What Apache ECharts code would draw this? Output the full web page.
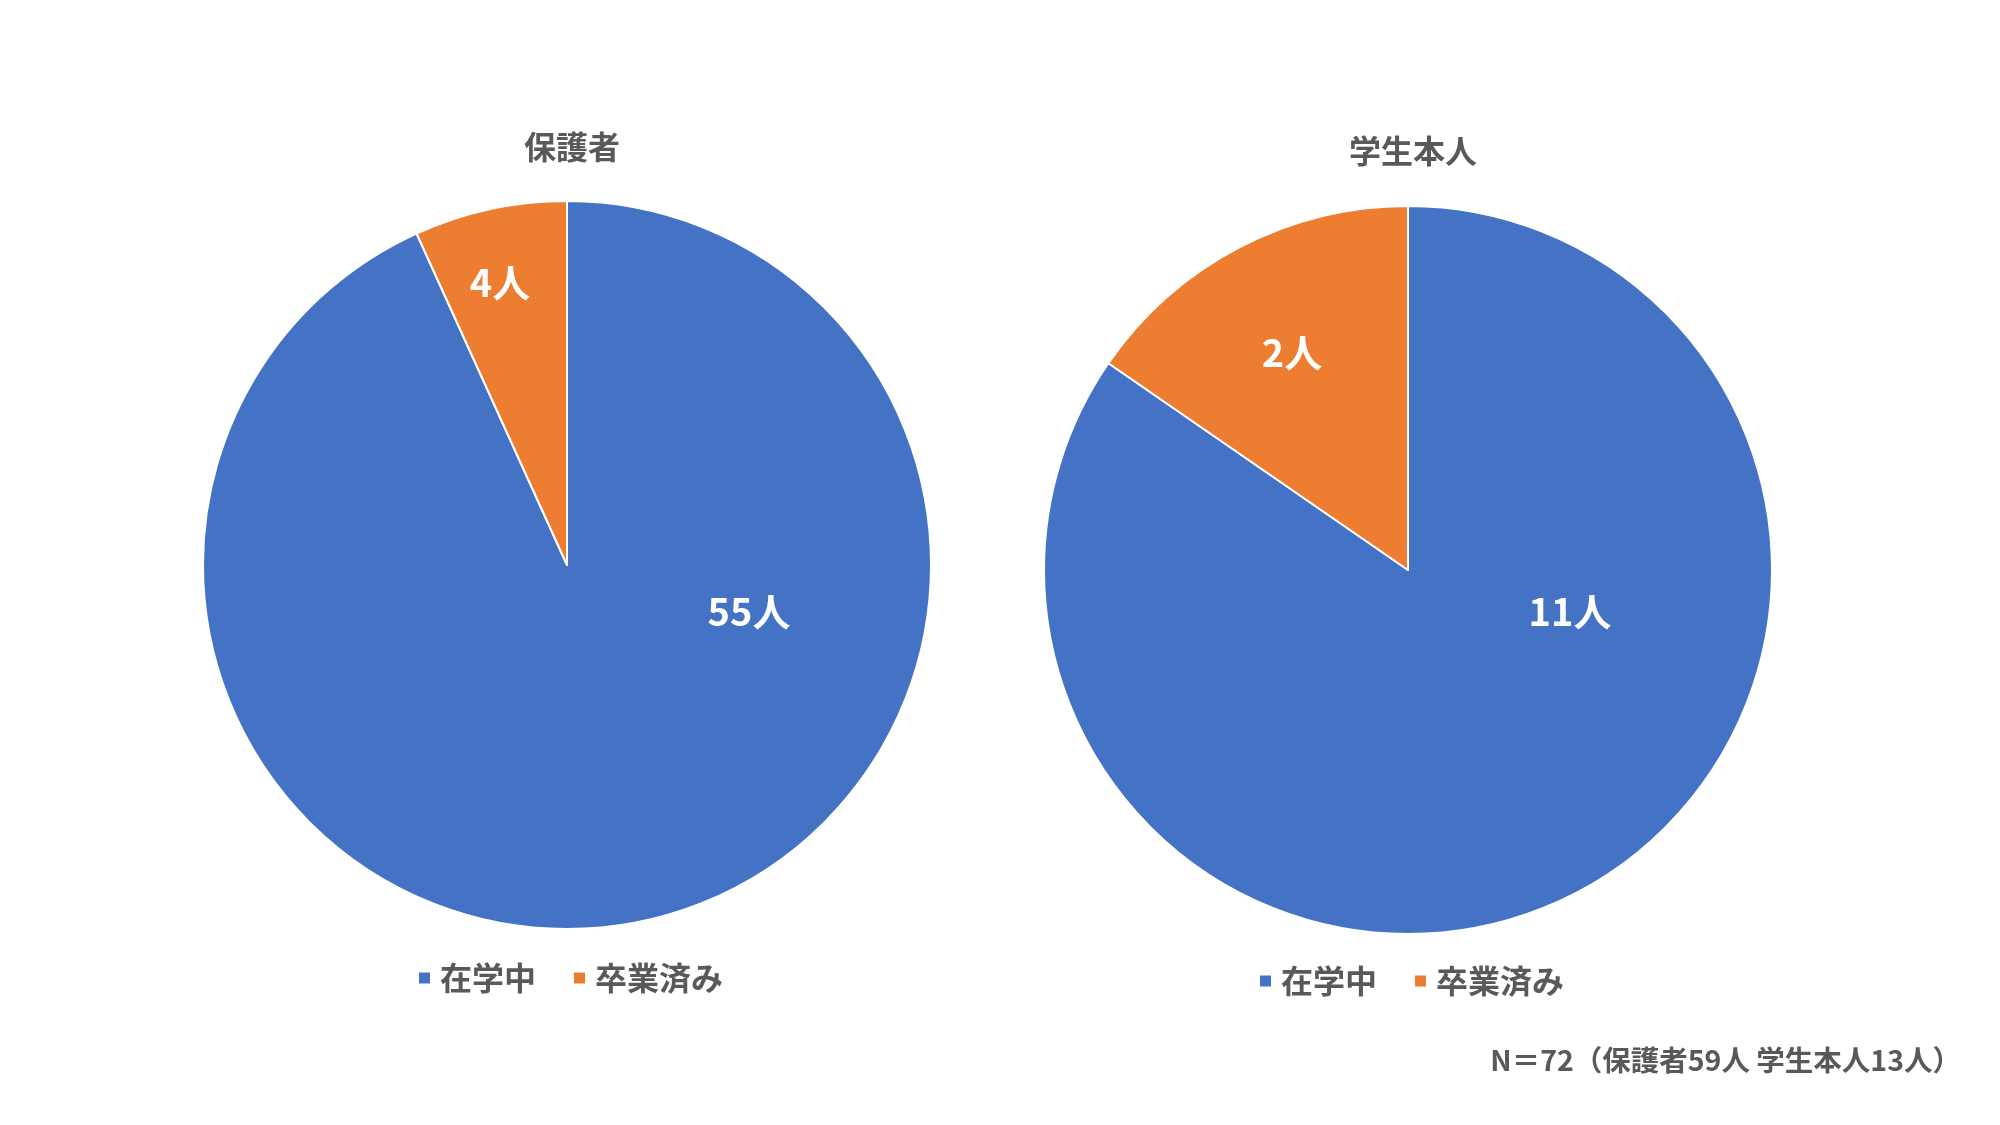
<!DOCTYPE html>
<html>
<head>
<meta charset="utf-8">
<script src="https://cdn.jsdelivr.net/npm/echarts@6/dist/echarts.min.js"></script>
<style>
html,body{margin:0;padding:0;background:#fff;}
#main{width:2000px;height:1125px;}
</style>
</head>
<body>
<div id="main"></div>
<script>
const categories = ['在学中', '卒業済み'];
const parentValues = [55, 4];
const studentValues = [11, 2];
const chartTitles = ['保護者', '学生本人'];
const footnote = 'N＝72（保護者59人 学生本人13人）';

const FONT = '"Noto Sans CJK JP", "Noto Sans", sans-serif';
const colors = ['#4472C4', '#ED7D31'];
const textColor = '#595959';

// label positions (pixels) tuned to match reference
const parentLabelPos = [[749, 612], [500, 283]];
const studentLabelPos = [[1570, 612], [1292, 353]];

function mk(values) {
  return categories.map((c, i) => ({ name: c, value: values[i] }));
}

const chart = echarts.init(document.getElementById('main'));
const labelStyle = {
  show: true,
  position: 'inside',
  formatter: p => p.value + '人',
  color: '#ffffff',
  fontSize: 38,
  fontWeight: 'bold',
  fontFamily: FONT
};
const legendText = { fontSize: 32, fontWeight: 'bold', color: textColor, fontFamily: FONT, padding: [0, 0, 0, 4] };
chart.setOption({
  backgroundColor: '#ffffff',
  color: colors,
  animation: false,
  title: [
    { text: chartTitles[0], left: 567, top: 142, textAlign: 'center', textVerticalAlign: 'middle',
      textStyle: { fontSize: 32, fontWeight: 'bold', color: textColor, fontFamily: FONT } },
    { text: chartTitles[1], left: 1408, top: 146, textAlign: 'center', textVerticalAlign: 'middle',
      textStyle: { fontSize: 32, fontWeight: 'bold', color: textColor, fontFamily: FONT } },
    { text: footnote, right: 34, top: 1055, textVerticalAlign: 'middle',
      textStyle: { fontSize: 28.5, fontWeight: 'bold', color: textColor, fontFamily: FONT } }
  ],
  legend: [
    { data: categories, left: 417, top: 962, padding: 0, icon: 'rect', itemWidth: 13, itemHeight: 13, itemGap: 36,
      textStyle: legendText },
    { data: categories, left: 1258, top: 965, padding: 0, icon: 'rect', itemWidth: 13, itemHeight: 13, itemGap: 36,
      textStyle: legendText }
  ],
  series: [
    {
      type: 'pie', center: [567, 565], radius: [0, 364], startAngle: 90, clockwise: true,
      data: mk(parentValues),
      itemStyle: { borderColor: '#ffffff', borderWidth: 2 },
      label: labelStyle, labelLine: { show: false },
      labelLayout: p => ({ x: parentLabelPos[p.dataIndex][0], y: parentLabelPos[p.dataIndex][1], align: 'center', verticalAlign: 'middle' }),
      emphasis: { disabled: true }
    },
    {
      type: 'pie', center: [1408, 570], radius: [0, 364], startAngle: 90, clockwise: true,
      data: mk(studentValues),
      itemStyle: { borderColor: '#ffffff', borderWidth: 2 },
      label: labelStyle, labelLine: { show: false },
      labelLayout: p => ({ x: studentLabelPos[p.dataIndex][0], y: studentLabelPos[p.dataIndex][1], align: 'center', verticalAlign: 'middle' }),
      emphasis: { disabled: true }
    }
  ]
});
</script>
</body>
</html>
